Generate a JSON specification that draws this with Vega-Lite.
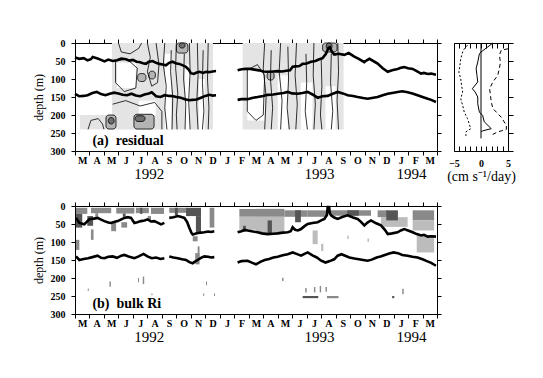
{
"$schema": "https://vega.github.io/schema/vega-lite/v6.json",
"padding": {"left": 31, "top": 37, "right": 5, "bottom": 5},
"background": "white",
"config": {
  "font": "Liberation Serif",
  "view": {"stroke": "black", "strokeWidth": 1},
  "axis": {"domain": false, "grid": false, "tickColor": "black", "tickSize": 4, "labelColor": "black", "labelFont": "Liberation Serif", "labelFontWeight": "bold", "labelFontSize": 10, "labelFlush": false, "labelOverlap": false, "labelBound": false, "titleFont": "Liberation Serif", "titleFontWeight": "normal", "titleFontSize": 12, "titleColor": "black"}
},
"datasets": {
  "shadeA": [
    {"t0": 0.35, "t1": 2.55, "d0": 200, "d1": 240, "lev": "L"},
    {"t0": 2.55, "t1": 9.53, "d0": 0, "d1": 240, "lev": "L"},
    {"t0": 11.58, "t1": 18.55, "d0": 0, "d1": 240, "lev": "L"},
    {"t0": 2.9, "t1": 4.2, "d0": 55, "d1": 125, "lev": "W"},
    {"t0": 4.4, "t1": 5.6, "d0": 160, "d1": 200, "lev": "W"},
    {"t0": 6.2, "t1": 6.65, "d0": 30, "d1": 240, "lev": "W"},
    {"t0": 7.6, "t1": 7.95, "d0": 60, "d1": 240, "lev": "W"},
    {"t0": 8.55, "t1": 8.95, "d0": 100, "d1": 240, "lev": "W"},
    {"t0": 11.9, "t1": 13.1, "d0": 75, "d1": 215, "lev": "W"},
    {"t0": 14.0, "t1": 14.7, "d0": 90, "d1": 240, "lev": "W"},
    {"t0": 15.6, "t1": 16.4, "d0": 110, "d1": 240, "lev": "W"},
    {"t0": 17.3, "t1": 18.0, "d0": 120, "d1": 240, "lev": "W"}
  ],
  "blobA": [
    {"t0": 4.33, "t1": 4.9, "d0": 85, "d1": 107, "lev": "M"},
    {"t0": 5.1, "t1": 5.55, "d0": 78, "d1": 100, "lev": "M"},
    {"t0": 2.14, "t1": 2.83, "d0": 200, "d1": 239, "lev": "M"},
    {"t0": 4.07, "t1": 5.46, "d0": 198, "d1": 239, "lev": "M"},
    {"t0": 7.0, "t1": 7.8, "d0": 0, "d1": 28, "lev": "M"},
    {"t0": 13.27, "t1": 13.75, "d0": 80, "d1": 103, "lev": "M"},
    {"t0": 17.1, "t1": 18.1, "d0": 0, "d1": 25, "lev": "M"},
    {"t0": 2.3, "t1": 2.7, "d0": 207, "d1": 225, "lev": "D"},
    {"t0": 4.15, "t1": 4.84, "d0": 202, "d1": 218, "lev": "D"},
    {"t0": 7.2, "t1": 7.6, "d0": 0, "d1": 14, "lev": "D"},
    {"t0": 17.35, "t1": 17.75, "d0": 0, "d1": 18, "lev": "D"}
  ],
  "contA": [
    {"c": "c1", "t": 6.2, "d": 0}, {"c": "c1", "t": 6.1, "d": 60}, {"c": "c1", "t": 6.3, "d": 120}, {"c": "c1", "t": 6.2, "d": 180}, {"c": "c1", "t": 6.35, "d": 240},
    {"c": "c2", "t": 6.65, "d": 20}, {"c": "c2", "t": 6.6, "d": 80}, {"c": "c2", "t": 6.75, "d": 150}, {"c": "c2", "t": 6.7, "d": 240},
    {"c": "c3", "t": 7.0, "d": 0}, {"c": "c3", "t": 6.95, "d": 70}, {"c": "c3", "t": 7.1, "d": 140}, {"c": "c3", "t": 7.0, "d": 200}, {"c": "c3", "t": 7.05, "d": 240},
    {"c": "c4", "t": 7.55, "d": 30}, {"c": "c4", "t": 7.5, "d": 100}, {"c": "c4", "t": 7.65, "d": 170}, {"c": "c4", "t": 7.6, "d": 240},
    {"c": "c5", "t": 7.9, "d": 0}, {"c": "c5", "t": 7.95, "d": 80}, {"c": "c5", "t": 7.85, "d": 160}, {"c": "c5", "t": 7.95, "d": 240},
    {"c": "c6", "t": 8.45, "d": 0}, {"c": "c6", "t": 8.5, "d": 90}, {"c": "c6", "t": 8.4, "d": 170}, {"c": "c6", "t": 8.5, "d": 240},
    {"c": "c7", "t": 8.85, "d": 20}, {"c": "c7", "t": 8.8, "d": 110}, {"c": "c7", "t": 8.9, "d": 190}, {"c": "c7", "t": 8.8, "d": 240},
    {"c": "c8", "t": 9.2, "d": 0}, {"c": "c8", "t": 9.15, "d": 100}, {"c": "c8", "t": 9.25, "d": 180}, {"c": "c8", "t": 9.2, "d": 240},
    {"c": "c9", "t": 2.8, "d": 50}, {"c": "c9", "t": 3.6, "d": 45}, {"c": "c9", "t": 4.3, "d": 70}, {"c": "c9", "t": 4.2, "d": 125}, {"c": "c9", "t": 3.4, "d": 135}, {"c": "c9", "t": 2.8, "d": 110}, {"c": "c9", "t": 2.8, "d": 50},
    {"c": "c11", "t": 2.6, "d": 170}, {"c": "c11", "t": 3.5, "d": 160}, {"c": "c11", "t": 4.5, "d": 175}, {"c": "c11", "t": 5.5, "d": 165}, {"c": "c11", "t": 6.0, "d": 190}, {"c": "c11", "t": 6.0, "d": 240},
    {"c": "c12", "t": 3.0, "d": 0}, {"c": "c12", "t": 3.2, "d": 25}, {"c": "c12", "t": 3.8, "d": 30}, {"c": "c12", "t": 4.4, "d": 15}, {"c": "c12", "t": 4.6, "d": 0},
    {"c": "c13", "t": 5.0, "d": 0}, {"c": "c13", "t": 5.2, "d": 40}, {"c": "c13", "t": 5.0, "d": 80}, {"c": "c13", "t": 5.3, "d": 120}, {"c": "c13", "t": 5.7, "d": 110}, {"c": "c13", "t": 5.8, "d": 60}, {"c": "c13", "t": 5.6, "d": 0},
    {"c": "c14", "t": 0.9, "d": 240}, {"c": "c14", "t": 1.1, "d": 215}, {"c": "c14", "t": 1.6, "d": 210}, {"c": "c14", "t": 1.9, "d": 225}, {"c": "c14", "t": 2.0, "d": 240},
    {"c": "d1", "t": 13.1, "d": 0}, {"c": "d1", "t": 13.0, "d": 70}, {"c": "d1", "t": 13.2, "d": 150}, {"c": "d1", "t": 13.1, "d": 240},
    {"c": "d2", "t": 13.55, "d": 20}, {"c": "d2", "t": 13.5, "d": 100}, {"c": "d2", "t": 13.65, "d": 180}, {"c": "d2", "t": 13.55, "d": 240},
    {"c": "d3", "t": 14.2, "d": 0}, {"c": "d3", "t": 14.1, "d": 80}, {"c": "d3", "t": 14.3, "d": 160}, {"c": "d3", "t": 14.2, "d": 240},
    {"c": "d4", "t": 14.7, "d": 10}, {"c": "d4", "t": 14.75, "d": 100}, {"c": "d4", "t": 14.65, "d": 180}, {"c": "d4", "t": 14.8, "d": 240},
    {"c": "d5", "t": 15.3, "d": 0}, {"c": "d5", "t": 15.2, "d": 90}, {"c": "d5", "t": 15.35, "d": 170}, {"c": "d5", "t": 15.25, "d": 240},
    {"c": "d6", "t": 15.95, "d": 30}, {"c": "d6", "t": 16.0, "d": 110}, {"c": "d6", "t": 15.9, "d": 190}, {"c": "d6", "t": 16.05, "d": 240},
    {"c": "d7", "t": 16.5, "d": 0}, {"c": "d7", "t": 16.45, "d": 90}, {"c": "d7", "t": 16.6, "d": 170}, {"c": "d7", "t": 16.5, "d": 240},
    {"c": "d8", "t": 17.0, "d": 40}, {"c": "d8", "t": 17.05, "d": 120}, {"c": "d8", "t": 16.95, "d": 200}, {"c": "d8", "t": 17.05, "d": 240},
    {"c": "d9", "t": 17.7, "d": 30}, {"c": "d9", "t": 17.65, "d": 110}, {"c": "d9", "t": 17.8, "d": 190}, {"c": "d9", "t": 17.7, "d": 240},
    {"c": "d10", "t": 18.15, "d": 0}, {"c": "d10", "t": 18.2, "d": 80}, {"c": "d10", "t": 18.1, "d": 160}, {"c": "d10", "t": 18.2, "d": 240},
    {"c": "d11", "t": 11.9, "d": 75}, {"c": "d11", "t": 12.6, "d": 60}, {"c": "d11", "t": 13.1, "d": 90}, {"c": "d11", "t": 13.0, "d": 200}, {"c": "d11", "t": 12.5, "d": 215}, {"c": "d11", "t": 11.9, "d": 190}, {"c": "d11", "t": 11.9, "d": 75}
  ],
  "linesA": [
    {"seg": "ml92", "t": 0, "d": 40}, {"seg": "ml92", "t": 0.3, "d": 44}, {"seg": "ml92", "t": 0.6, "d": 42}, {"seg": "ml92", "t": 0.87, "d": 48}, {"seg": "ml92", "t": 1.1, "d": 45}, {"seg": "ml92", "t": 1.22, "d": 39}, {"seg": "ml92", "t": 1.56, "d": 43}, {"seg": "ml92", "t": 1.8, "d": 47}, {"seg": "ml92", "t": 2.03, "d": 51}, {"seg": "ml92", "t": 2.3, "d": 46}, {"seg": "ml92", "t": 2.6, "d": 50}, {"seg": "ml92", "t": 2.9, "d": 48}, {"seg": "ml92", "t": 3.2, "d": 43}, {"seg": "ml92", "t": 3.52, "d": 45}, {"seg": "ml92", "t": 3.75, "d": 49}, {"seg": "ml92", "t": 4.0, "d": 47}, {"seg": "ml92", "t": 4.25, "d": 52}, {"seg": "ml92", "t": 4.44, "d": 53}, {"seg": "ml92", "t": 4.7, "d": 56}, {"seg": "ml92", "t": 4.9, "d": 58}, {"seg": "ml92", "t": 5.1, "d": 52}, {"seg": "ml92", "t": 5.36, "d": 50}, {"seg": "ml92", "t": 5.6, "d": 55}, {"seg": "ml92", "t": 5.82, "d": 58}, {"seg": "ml92", "t": 6.05, "d": 60}, {"seg": "ml92", "t": 6.28, "d": 62}, {"seg": "ml92", "t": 6.5, "d": 55}, {"seg": "ml92", "t": 6.74, "d": 52}, {"seg": "ml92", "t": 6.95, "d": 56}, {"seg": "ml92", "t": 7.2, "d": 58}, {"seg": "ml92", "t": 7.45, "d": 62}, {"seg": "ml92", "t": 7.66, "d": 66}, {"seg": "ml92", "t": 7.85, "d": 74}, {"seg": "ml92", "t": 8.0, "d": 84}, {"seg": "ml92", "t": 8.2, "d": 86}, {"seg": "ml92", "t": 8.4, "d": 82}, {"seg": "ml92", "t": 8.6, "d": 80}, {"seg": "ml92", "t": 8.85, "d": 83}, {"seg": "ml92", "t": 9.05, "d": 80}, {"seg": "ml92", "t": 9.25, "d": 81}, {"seg": "ml92", "t": 9.5, "d": 79}, {"seg": "ml92", "t": 9.74, "d": 78},
    {"seg": "th92", "t": 0, "d": 141}, {"seg": "th92", "t": 0.3, "d": 148}, {"seg": "th92", "t": 0.6, "d": 147}, {"seg": "th92", "t": 0.87, "d": 145}, {"seg": "th92", "t": 1.2, "d": 139}, {"seg": "th92", "t": 1.5, "d": 136}, {"seg": "th92", "t": 1.8, "d": 142}, {"seg": "th92", "t": 2.1, "d": 145}, {"seg": "th92", "t": 2.4, "d": 141}, {"seg": "th92", "t": 2.7, "d": 138}, {"seg": "th92", "t": 3.0, "d": 140}, {"seg": "th92", "t": 3.3, "d": 144}, {"seg": "th92", "t": 3.6, "d": 145}, {"seg": "th92", "t": 3.9, "d": 141}, {"seg": "th92", "t": 4.2, "d": 146}, {"seg": "th92", "t": 4.5, "d": 148}, {"seg": "th92", "t": 4.8, "d": 143}, {"seg": "th92", "t": 5.1, "d": 140}, {"seg": "th92", "t": 5.3, "d": 137}, {"seg": "th92", "t": 5.6, "d": 148}, {"seg": "th92", "t": 5.9, "d": 150}, {"seg": "th92", "t": 6.2, "d": 145}, {"seg": "th92", "t": 6.5, "d": 147}, {"seg": "th92", "t": 6.8, "d": 148}, {"seg": "th92", "t": 7.0, "d": 150}, {"seg": "th92", "t": 7.3, "d": 152}, {"seg": "th92", "t": 7.6, "d": 156}, {"seg": "th92", "t": 7.9, "d": 159}, {"seg": "th92", "t": 8.1, "d": 158}, {"seg": "th92", "t": 8.4, "d": 157}, {"seg": "th92", "t": 8.7, "d": 152}, {"seg": "th92", "t": 9.0, "d": 147}, {"seg": "th92", "t": 9.3, "d": 144}, {"seg": "th92", "t": 9.5, "d": 146}, {"seg": "th92", "t": 9.74, "d": 145},
    {"seg": "ml93", "t": 11.23, "d": 76}, {"seg": "ml93", "t": 11.5, "d": 73}, {"seg": "ml93", "t": 11.8, "d": 72}, {"seg": "ml93", "t": 12.1, "d": 72}, {"seg": "ml93", "t": 12.4, "d": 74}, {"seg": "ml93", "t": 12.7, "d": 76}, {"seg": "ml93", "t": 13.0, "d": 79}, {"seg": "ml93", "t": 13.3, "d": 80}, {"seg": "ml93", "t": 13.7, "d": 79}, {"seg": "ml93", "t": 14.0, "d": 78}, {"seg": "ml93", "t": 14.3, "d": 79}, {"seg": "ml93", "t": 14.6, "d": 77}, {"seg": "ml93", "t": 14.85, "d": 76}, {"seg": "ml93", "t": 15.03, "d": 66}, {"seg": "ml93", "t": 15.25, "d": 65}, {"seg": "ml93", "t": 15.5, "d": 64}, {"seg": "ml93", "t": 15.72, "d": 58}, {"seg": "ml93", "t": 16.0, "d": 57}, {"seg": "ml93", "t": 16.3, "d": 52}, {"seg": "ml93", "t": 16.6, "d": 50}, {"seg": "ml93", "t": 16.87, "d": 45}, {"seg": "ml93", "t": 17.1, "d": 42}, {"seg": "ml93", "t": 17.33, "d": 30}, {"seg": "ml93", "t": 17.5, "d": 14}, {"seg": "ml93", "t": 17.6, "d": 12}, {"seg": "ml93", "t": 17.75, "d": 25}, {"seg": "ml93", "t": 17.91, "d": 32}, {"seg": "ml93", "t": 18.2, "d": 30}, {"seg": "ml93", "t": 18.6, "d": 33}, {"seg": "ml93", "t": 18.9, "d": 28}, {"seg": "ml93", "t": 19.29, "d": 38}, {"seg": "ml93", "t": 19.6, "d": 44}, {"seg": "ml93", "t": 19.98, "d": 53}, {"seg": "ml93", "t": 20.15, "d": 48}, {"seg": "ml93", "t": 20.33, "d": 44}, {"seg": "ml93", "t": 20.6, "d": 50}, {"seg": "ml93", "t": 20.9, "d": 57}, {"seg": "ml93", "t": 21.25, "d": 70}, {"seg": "ml93", "t": 21.6, "d": 80}, {"seg": "ml93", "t": 21.9, "d": 76}, {"seg": "ml93", "t": 22.28, "d": 72}, {"seg": "ml93", "t": 22.5, "d": 69}, {"seg": "ml93", "t": 22.74, "d": 67}, {"seg": "ml93", "t": 23.0, "d": 70}, {"seg": "ml93", "t": 23.32, "d": 72}, {"seg": "ml93", "t": 23.6, "d": 78}, {"seg": "ml93", "t": 23.9, "d": 85}, {"seg": "ml93", "t": 24.1, "d": 83}, {"seg": "ml93", "t": 24.36, "d": 86}, {"seg": "ml93", "t": 24.6, "d": 85}, {"seg": "ml93", "t": 24.93, "d": 88},
    {"seg": "th93", "t": 11.23, "d": 158}, {"seg": "th93", "t": 11.5, "d": 156}, {"seg": "th93", "t": 11.92, "d": 156}, {"seg": "th93", "t": 12.3, "d": 152}, {"seg": "th93", "t": 12.61, "d": 150}, {"seg": "th93", "t": 13.0, "d": 147}, {"seg": "th93", "t": 13.3, "d": 144}, {"seg": "th93", "t": 13.7, "d": 143}, {"seg": "th93", "t": 14.0, "d": 141}, {"seg": "th93", "t": 14.4, "d": 139}, {"seg": "th93", "t": 14.69, "d": 136}, {"seg": "th93", "t": 15.0, "d": 140}, {"seg": "th93", "t": 15.38, "d": 141}, {"seg": "th93", "t": 15.7, "d": 139}, {"seg": "th93", "t": 16.07, "d": 136}, {"seg": "th93", "t": 16.4, "d": 143}, {"seg": "th93", "t": 16.76, "d": 152}, {"seg": "th93", "t": 17.1, "d": 148}, {"seg": "th93", "t": 17.45, "d": 147}, {"seg": "th93", "t": 17.8, "d": 141}, {"seg": "th93", "t": 18.14, "d": 136}, {"seg": "th93", "t": 18.5, "d": 140}, {"seg": "th93", "t": 18.83, "d": 145}, {"seg": "th93", "t": 19.2, "d": 147}, {"seg": "th93", "t": 19.52, "d": 150}, {"seg": "th93", "t": 19.9, "d": 153}, {"seg": "th93", "t": 20.21, "d": 155}, {"seg": "th93", "t": 20.6, "d": 152}, {"seg": "th93", "t": 20.9, "d": 150}, {"seg": "th93", "t": 21.25, "d": 145}, {"seg": "th93", "t": 21.6, "d": 141}, {"seg": "th93", "t": 22.0, "d": 138}, {"seg": "th93", "t": 22.28, "d": 136}, {"seg": "th93", "t": 22.6, "d": 134}, {"seg": "th93", "t": 22.97, "d": 137}, {"seg": "th93", "t": 23.3, "d": 140}, {"seg": "th93", "t": 23.66, "d": 145}, {"seg": "th93", "t": 24.0, "d": 150}, {"seg": "th93", "t": 24.36, "d": 155}, {"seg": "th93", "t": 24.6, "d": 158}, {"seg": "th93", "t": 24.93, "d": 164}
  ],
  "speckB": [
    {"t0": 0.07, "t1": 0.85, "d0": 5, "d1": 22, "lev": "g"},
    {"t0": 0.07, "t1": 0.5, "d0": 22, "d1": 60, "lev": "k"},
    {"t0": 0.85, "t1": 1.25, "d0": 28, "d1": 55, "lev": "k"},
    {"t0": 1.1, "t1": 2.5, "d0": 5, "d1": 20, "lev": "g"},
    {"t0": 1.4, "t1": 1.6, "d0": 20, "d1": 30, "lev": "g"},
    {"t0": 2.85, "t1": 4.1, "d0": 5, "d1": 21, "lev": "g"},
    {"t0": 3.3, "t1": 3.5, "d0": 21, "d1": 30, "lev": "k"},
    {"t0": 4.2, "t1": 5.1, "d0": 5, "d1": 20, "lev": "g"},
    {"t0": 4.5, "t1": 4.65, "d0": 5, "d1": 22, "lev": "k"},
    {"t0": 5.25, "t1": 6.15, "d0": 5, "d1": 22, "lev": "g"},
    {"t0": 1.1, "t1": 1.28, "d0": 65, "d1": 94, "lev": "g"},
    {"t0": 0.07, "t1": 0.3, "d0": 94, "d1": 122, "lev": "g"},
    {"t0": 2.5, "t1": 2.84, "d0": 47, "d1": 70, "lev": "g"},
    {"t0": 3.2, "t1": 3.6, "d0": 45, "d1": 60, "lev": "g"},
    {"t0": 5.02, "t1": 5.25, "d0": 28, "d1": 40, "lev": "g"},
    {"t0": 4.68, "t1": 4.78, "d0": 196, "d1": 217, "lev": "g"},
    {"t0": 4.35, "t1": 4.42, "d0": 200, "d1": 212, "lev": "g"},
    {"t0": 2.38, "t1": 2.48, "d0": 210, "d1": 224, "lev": "g"},
    {"t0": 0.88, "t1": 0.95, "d0": 229, "d1": 236, "lev": "g"},
    {"t0": 5.28, "t1": 5.35, "d0": 243, "d1": 248, "lev": "g"},
    {"t0": 6.51, "t1": 7.7, "d0": 5, "d1": 19, "lev": "g"},
    {"t0": 6.9, "t1": 7.1, "d0": 5, "d1": 25, "lev": "k"},
    {"t0": 7.67, "t1": 8.7, "d0": 5, "d1": 28, "lev": "k"},
    {"t0": 8.35, "t1": 8.7, "d0": 28, "d1": 72, "lev": "k"},
    {"t0": 8.13, "t1": 8.47, "d0": 84, "d1": 98, "lev": "g"},
    {"t0": 8.47, "t1": 8.6, "d0": 112, "d1": 145, "lev": "g"},
    {"t0": 8.3, "t1": 8.6, "d0": 131, "d1": 162, "lev": "g"},
    {"t0": 9.3, "t1": 9.62, "d0": 5, "d1": 60, "lev": "g"},
    {"t0": 9.05, "t1": 9.12, "d0": 210, "d1": 220, "lev": "g"},
    {"t0": 8.85, "t1": 8.92, "d0": 243, "d1": 250, "lev": "g"},
    {"t0": 9.6, "t1": 9.67, "d0": 243, "d1": 250, "lev": "g"},
    {"t0": 11.35, "t1": 12.5, "d0": 8, "d1": 30, "lev": "g"},
    {"t0": 11.35, "t1": 12.5, "d0": 30, "d1": 66, "lev": "l"},
    {"t0": 11.6, "t1": 11.8, "d0": 55, "d1": 72, "lev": "k"},
    {"t0": 12.5, "t1": 14.46, "d0": 8, "d1": 30, "lev": "g"},
    {"t0": 12.5, "t1": 14.46, "d0": 30, "d1": 75, "lev": "l"},
    {"t0": 13.3, "t1": 13.6, "d0": 40, "d1": 80, "lev": "k"},
    {"t0": 14.46, "t1": 16.07, "d0": 12, "d1": 30, "lev": "g"},
    {"t0": 15.2, "t1": 15.6, "d0": 12, "d1": 45, "lev": "k"},
    {"t0": 16.07, "t1": 17.35, "d0": 12, "d1": 30, "lev": "g"},
    {"t0": 17.68, "t1": 20.44, "d0": 12, "d1": 27, "lev": "g"},
    {"t0": 18.8, "t1": 19.6, "d0": 12, "d1": 27, "lev": "k"},
    {"t0": 20.9, "t1": 21.6, "d0": 12, "d1": 31, "lev": "g"},
    {"t0": 21.13, "t1": 22.97, "d0": 31, "d1": 58, "lev": "l"},
    {"t0": 21.5, "t1": 22.3, "d0": 12, "d1": 40, "lev": "k"},
    {"t0": 23.32, "t1": 24.8, "d0": 12, "d1": 40, "lev": "g"},
    {"t0": 23.32, "t1": 24.8, "d0": 40, "d1": 68, "lev": "l"},
    {"t0": 23.6, "t1": 24.8, "d0": 82, "d1": 129, "lev": "l"},
    {"t0": 16.41, "t1": 16.76, "d0": 68, "d1": 106, "lev": "l"},
    {"t0": 17.0, "t1": 17.15, "d0": 105, "d1": 125, "lev": "l"},
    {"t0": 18.8, "t1": 18.9, "d0": 82, "d1": 92, "lev": "l"},
    {"t0": 20.2, "t1": 20.3, "d0": 90, "d1": 100, "lev": "l"},
    {"t0": 14.3, "t1": 14.4, "d0": 199, "d1": 208, "lev": "g"},
    {"t0": 15.9, "t1": 16.0, "d0": 228, "d1": 240, "lev": "g"},
    {"t0": 16.5, "t1": 16.6, "d0": 225, "d1": 240, "lev": "g"},
    {"t0": 16.9, "t1": 17.0, "d0": 222, "d1": 240, "lev": "g"},
    {"t0": 17.3, "t1": 17.4, "d0": 225, "d1": 238, "lev": "g"},
    {"t0": 15.72, "t1": 16.8, "d0": 250, "d1": 256, "lev": "k"},
    {"t0": 17.4, "t1": 18.2, "d0": 250, "d1": 256, "lev": "g"},
    {"t0": 21.9, "t1": 22.05, "d0": 250, "d1": 256, "lev": "k"},
    {"t0": 22.6, "t1": 22.7, "d0": 230, "d1": 245, "lev": "g"}
  ],
  "linesB": [
    {"seg": "ml92a", "t": 0.07, "d": 33}, {"seg": "ml92a", "t": 0.3, "d": 47}, {"seg": "ml92a", "t": 0.64, "d": 51}, {"seg": "ml92a", "t": 0.99, "d": 37}, {"seg": "ml92a", "t": 1.3, "d": 35}, {"seg": "ml92a", "t": 1.56, "d": 33}, {"seg": "ml92a", "t": 1.8, "d": 38}, {"seg": "ml92a", "t": 2.03, "d": 42}, {"seg": "ml92a", "t": 2.3, "d": 46}, {"seg": "ml92a", "t": 2.49, "d": 47}, {"seg": "ml92a", "t": 2.75, "d": 44}, {"seg": "ml92a", "t": 2.95, "d": 42}, {"seg": "ml92a", "t": 3.2, "d": 37}, {"seg": "ml92a", "t": 3.41, "d": 33}, {"seg": "ml92a", "t": 3.65, "d": 31}, {"seg": "ml92a", "t": 3.87, "d": 33}, {"seg": "ml92a", "t": 4.1, "d": 47}, {"seg": "ml92a", "t": 4.3, "d": 45}, {"seg": "ml92a", "t": 4.56, "d": 42}, {"seg": "ml92a", "t": 4.8, "d": 40}, {"seg": "ml92a", "t": 5.02, "d": 37}, {"seg": "ml92a", "t": 5.25, "d": 43}, {"seg": "ml92a", "t": 5.48, "d": 42}, {"seg": "ml92a", "t": 5.7, "d": 46}, {"seg": "ml92a", "t": 5.94, "d": 51}, {"seg": "ml92a", "t": 6.17, "d": 47},
    {"seg": "ml92b", "t": 6.51, "d": 33}, {"seg": "ml92b", "t": 6.8, "d": 31}, {"seg": "ml92b", "t": 7.09, "d": 28}, {"seg": "ml92b", "t": 7.3, "d": 30}, {"seg": "ml92b", "t": 7.55, "d": 33}, {"seg": "ml92b", "t": 7.75, "d": 45}, {"seg": "ml92b", "t": 7.9, "d": 61}, {"seg": "ml92b", "t": 8.05, "d": 75}, {"seg": "ml92b", "t": 8.13, "d": 79}, {"seg": "ml92b", "t": 8.3, "d": 77}, {"seg": "ml92b", "t": 8.47, "d": 75}, {"seg": "ml92b", "t": 8.7, "d": 74}, {"seg": "ml92b", "t": 8.93, "d": 73}, {"seg": "ml92b", "t": 9.2, "d": 71}, {"seg": "ml92b", "t": 9.4, "d": 72}, {"seg": "ml92b", "t": 9.62, "d": 70},
    {"seg": "th92a", "t": 0.07, "d": 140}, {"seg": "th92a", "t": 0.3, "d": 150}, {"seg": "th92a", "t": 0.6, "d": 147}, {"seg": "th92a", "t": 0.9, "d": 145}, {"seg": "th92a", "t": 1.2, "d": 142}, {"seg": "th92a", "t": 1.56, "d": 138}, {"seg": "th92a", "t": 1.8, "d": 144}, {"seg": "th92a", "t": 2.03, "d": 145}, {"seg": "th92a", "t": 2.3, "d": 141}, {"seg": "th92a", "t": 2.6, "d": 140}, {"seg": "th92a", "t": 2.9, "d": 144}, {"seg": "th92a", "t": 3.2, "d": 138}, {"seg": "th92a", "t": 3.41, "d": 136}, {"seg": "th92a", "t": 3.7, "d": 140}, {"seg": "th92a", "t": 4.1, "d": 145}, {"seg": "th92a", "t": 4.4, "d": 140}, {"seg": "th92a", "t": 4.73, "d": 133}, {"seg": "th92a", "t": 5.0, "d": 140}, {"seg": "th92a", "t": 5.3, "d": 145}, {"seg": "th92a", "t": 5.6, "d": 143}, {"seg": "th92a", "t": 5.9, "d": 147}, {"seg": "th92a", "t": 6.17, "d": 145},
    {"seg": "th92b", "t": 6.51, "d": 140}, {"seg": "th92b", "t": 6.8, "d": 143}, {"seg": "th92b", "t": 7.09, "d": 145}, {"seg": "th92b", "t": 7.4, "d": 148}, {"seg": "th92b", "t": 7.67, "d": 150}, {"seg": "th92b", "t": 7.9, "d": 156}, {"seg": "th92b", "t": 8.13, "d": 159}, {"seg": "th92b", "t": 8.3, "d": 154}, {"seg": "th92b", "t": 8.47, "d": 150}, {"seg": "th92b", "t": 8.7, "d": 144}, {"seg": "th92b", "t": 8.93, "d": 140}, {"seg": "th92b", "t": 9.2, "d": 141}, {"seg": "th92b", "t": 9.4, "d": 143}, {"seg": "th92b", "t": 9.62, "d": 142},
    {"seg": "ml93", "t": 11.23, "d": 73}, {"seg": "ml93", "t": 11.5, "d": 70}, {"seg": "ml93", "t": 11.7, "d": 66}, {"seg": "ml93", "t": 11.92, "d": 68}, {"seg": "ml93", "t": 12.3, "d": 71}, {"seg": "ml93", "t": 12.61, "d": 73}, {"seg": "ml93", "t": 12.9, "d": 76}, {"seg": "ml93", "t": 13.3, "d": 78}, {"seg": "ml93", "t": 13.7, "d": 77}, {"seg": "ml93", "t": 14.0, "d": 76}, {"seg": "ml93", "t": 14.35, "d": 74}, {"seg": "ml93", "t": 14.69, "d": 73}, {"seg": "ml93", "t": 14.9, "d": 70}, {"seg": "ml93", "t": 15.03, "d": 59}, {"seg": "ml93", "t": 15.2, "d": 66}, {"seg": "ml93", "t": 15.4, "d": 68}, {"seg": "ml93", "t": 15.61, "d": 64}, {"seg": "ml93", "t": 15.85, "d": 56}, {"seg": "ml93", "t": 16.07, "d": 50}, {"seg": "ml93", "t": 16.4, "d": 47}, {"seg": "ml93", "t": 16.76, "d": 45}, {"seg": "ml93", "t": 17.0, "d": 40}, {"seg": "ml93", "t": 17.22, "d": 36}, {"seg": "ml93", "t": 17.4, "d": 25}, {"seg": "ml93", "t": 17.45, "d": 3}, {"seg": "ml93", "t": 17.55, "d": 3}, {"seg": "ml93", "t": 17.6, "d": 20}, {"seg": "ml93", "t": 17.68, "d": 26}, {"seg": "ml93", "t": 17.9, "d": 32}, {"seg": "ml93", "t": 18.14, "d": 36}, {"seg": "ml93", "t": 18.5, "d": 30}, {"seg": "ml93", "t": 18.83, "d": 26}, {"seg": "ml93", "t": 19.2, "d": 32}, {"seg": "ml93", "t": 19.52, "d": 36}, {"seg": "ml93", "t": 19.75, "d": 44}, {"seg": "ml93", "t": 19.98, "d": 54}, {"seg": "ml93", "t": 20.2, "d": 46}, {"seg": "ml93", "t": 20.44, "d": 40}, {"seg": "ml93", "t": 20.8, "d": 48}, {"seg": "ml93", "t": 21.13, "d": 54}, {"seg": "ml93", "t": 21.4, "d": 66}, {"seg": "ml93", "t": 21.6, "d": 78}, {"seg": "ml93", "t": 21.9, "d": 76}, {"seg": "ml93", "t": 22.28, "d": 73}, {"seg": "ml93", "t": 22.5, "d": 68}, {"seg": "ml93", "t": 22.74, "d": 64}, {"seg": "ml93", "t": 23.0, "d": 68}, {"seg": "ml93", "t": 23.32, "d": 73}, {"seg": "ml93", "t": 23.6, "d": 78}, {"seg": "ml93", "t": 23.9, "d": 82}, {"seg": "ml93", "t": 24.1, "d": 80}, {"seg": "ml93", "t": 24.36, "d": 85}, {"seg": "ml93", "t": 24.6, "d": 84}, {"seg": "ml93", "t": 24.93, "d": 85},
    {"seg": "th93", "t": 11.23, "d": 157}, {"seg": "th93", "t": 11.5, "d": 153}, {"seg": "th93", "t": 11.92, "d": 152}, {"seg": "th93", "t": 12.25, "d": 158}, {"seg": "th93", "t": 12.5, "d": 162}, {"seg": "th93", "t": 12.8, "d": 155}, {"seg": "th93", "t": 13.1, "d": 150}, {"seg": "th93", "t": 13.4, "d": 147}, {"seg": "th93", "t": 13.7, "d": 143}, {"seg": "th93", "t": 14.0, "d": 141}, {"seg": "th93", "t": 14.35, "d": 137}, {"seg": "th93", "t": 14.69, "d": 134}, {"seg": "th93", "t": 15.03, "d": 129}, {"seg": "th93", "t": 15.3, "d": 133}, {"seg": "th93", "t": 15.61, "d": 138}, {"seg": "th93", "t": 15.85, "d": 133}, {"seg": "th93", "t": 16.07, "d": 129}, {"seg": "th93", "t": 16.4, "d": 137}, {"seg": "th93", "t": 16.7, "d": 143}, {"seg": "th93", "t": 17.0, "d": 152}, {"seg": "th93", "t": 17.3, "d": 157}, {"seg": "th93", "t": 17.6, "d": 153}, {"seg": "th93", "t": 17.9, "d": 148}, {"seg": "th93", "t": 18.14, "d": 138}, {"seg": "th93", "t": 18.4, "d": 134}, {"seg": "th93", "t": 18.7, "d": 139}, {"seg": "th93", "t": 18.95, "d": 143}, {"seg": "th93", "t": 19.3, "d": 146}, {"seg": "th93", "t": 19.6, "d": 148}, {"seg": "th93", "t": 19.9, "d": 150}, {"seg": "th93", "t": 20.21, "d": 152}, {"seg": "th93", "t": 20.5, "d": 149}, {"seg": "th93", "t": 20.83, "d": 143}, {"seg": "th93", "t": 21.1, "d": 140}, {"seg": "th93", "t": 21.4, "d": 136}, {"seg": "th93", "t": 21.7, "d": 132}, {"seg": "th93", "t": 22.0, "d": 129}, {"seg": "th93", "t": 22.3, "d": 131}, {"seg": "th93", "t": 22.6, "d": 136}, {"seg": "th93", "t": 22.97, "d": 138}, {"seg": "th93", "t": 23.3, "d": 141}, {"seg": "th93", "t": 23.66, "d": 143}, {"seg": "th93", "t": 24.0, "d": 148}, {"seg": "th93", "t": 24.3, "d": 153}, {"seg": "th93", "t": 24.6, "d": 158}, {"seg": "th93", "t": 24.93, "d": 166}
  ],
  "prof": [
    {"k": "mean", "v": 2.2, "d": 0}, {"k": "mean", "v": 1.25, "d": 11}, {"k": "mean", "v": 0, "d": 25}, {"k": "mean", "v": -0.3, "d": 30}, {"k": "mean", "v": -0.6, "d": 53}, {"k": "mean", "v": -0.9, "d": 71}, {"k": "mean", "v": -0.75, "d": 90}, {"k": "mean", "v": -0.6, "d": 108}, {"k": "mean", "v": -1.6, "d": 127}, {"k": "mean", "v": -1.1, "d": 136}, {"k": "mean", "v": -0.6, "d": 150}, {"k": "mean", "v": -0.6, "d": 169}, {"k": "mean", "v": -0.3, "d": 192}, {"k": "mean", "v": 0.3, "d": 201}, {"k": "mean", "v": 0.6, "d": 219}, {"k": "mean", "v": 1.9, "d": 238}, {"k": "mean", "v": 0.3, "d": 244}, {"k": "mean", "v": 0, "d": 247},
    {"k": "low", "v": -2.5, "d": 6}, {"k": "low", "v": -3.1, "d": 16}, {"k": "low", "v": -3.4, "d": 25}, {"k": "low", "v": -3.75, "d": 44}, {"k": "low", "v": -3.9, "d": 62}, {"k": "low", "v": -4.1, "d": 81}, {"k": "low", "v": -3.75, "d": 99}, {"k": "low", "v": -3.6, "d": 118}, {"k": "low", "v": -3.4, "d": 136}, {"k": "low", "v": -3.75, "d": 155}, {"k": "low", "v": -3.4, "d": 173}, {"k": "low", "v": -3.1, "d": 192}, {"k": "low", "v": -2.5, "d": 210}, {"k": "low", "v": -2.2, "d": 224}, {"k": "low", "v": -1.9, "d": 238}, {"k": "low", "v": -2.8, "d": 247}, {"k": "low", "v": -2.8, "d": 258},
    {"k": "high", "v": 5, "d": 16}, {"k": "high", "v": 3.75, "d": 20}, {"k": "high", "v": 3.4, "d": 34}, {"k": "high", "v": 3.6, "d": 53}, {"k": "high", "v": 3.4, "d": 71}, {"k": "high", "v": 3.1, "d": 90}, {"k": "high", "v": 2.2, "d": 108}, {"k": "high", "v": 1.6, "d": 127}, {"k": "high", "v": 1.75, "d": 145}, {"k": "high", "v": 1.9, "d": 164}, {"k": "high", "v": 2.2, "d": 182}, {"k": "high", "v": 3.1, "d": 196}, {"k": "high", "v": 3.75, "d": 206}, {"k": "high", "v": 4.7, "d": 229}, {"k": "high", "v": 4.7, "d": 240}, {"k": "high", "v": 3.1, "d": 247}, {"k": "high", "v": 1.9, "d": 256}
  ]
},
"columns": 2,
"spacing": {"row": 55, "column": 17},
"bounds": "flush",
"concat": [
  {
    "width": 362, "height": 108,
    "resolve": {"axis": {"x": "independent", "y": "independent"}},
    "layer": [
      {"data": {"name": "shadeA"}, "mark": {"type": "rect", "strokeWidth": 0},
       "encoding": {
         "x": {"field": "t0", "type": "quantitative", "scale": {"domain": [0, 25], "nice": false, "zero": false}, "axis": {"orient": "bottom", "values": [0,1,2,3,4,5,6,7,8,9,10,11,12,13,14,15,16,17,18,19,20,21,22,23,24,25], "labels": false, "title": null}},
         "x2": {"field": "t1"},
         "y": {"field": "d0", "type": "quantitative", "scale": {"domain": [0, 300], "reverse": true, "nice": false, "zero": false}, "axis": {"orient": "left", "values": [0,50,100,150,200,250,300], "labelPadding": 6, "title": "depth (m)", "titlePadding": 5}},
         "y2": {"field": "d1"},
         "color": {"field": "lev", "type": "nominal", "scale": {"domain": ["L","W","M","D","g","k","l"], "range": ["#e4e4e4","#ffffff","#b4b4b4","#6e6e6e","#8a8a8a","#555555","#bcbcbc"]}, "legend": null}
       }},
      {"data": {"name": "blobA"}, "mark": {"type": "rect", "stroke": "black", "strokeWidth": 0.8, "cornerRadius": 3},
       "encoding": {
         "x": {"field": "t0", "type": "quantitative", "scale": {"domain": [0, 25], "nice": false, "zero": false}, "axis": {"orient": "bottom", "values": [0.5,1.5,2.5,3.5,4.5,5.5,6.5,7.5,8.5,9.5,10.5,11.5,12.5,13.5,14.5,15.5,16.5,17.5,18.5,19.5,20.5,21.5,22.5,23.5,24.5], "ticks": false, "labelPadding": 4, "labelExpr": "substring('MAMJJASONDJFMAMJJASONDJFM', floor(datum.value), floor(datum.value) + 1)", "title": null}},
         "x2": {"field": "t1"},
         "y": {"field": "d0", "type": "quantitative", "scale": {"domain": [0, 300], "reverse": true, "nice": false, "zero": false}, "axis": {"orient": "right", "values": [0,50,100,150,200,250,300], "labels": false, "title": null}},
         "y2": {"field": "d1"},
         "color": {"field": "lev", "type": "nominal", "scale": {"domain": ["L","W","M","D","g","k","l"], "range": ["#e4e4e4","#ffffff","#b4b4b4","#6e6e6e","#8a8a8a","#555555","#bcbcbc"]}, "legend": null}
       }},
      {"data": {"name": "contA"}, "mark": {"type": "line", "color": "black", "strokeWidth": 0.8},
       "encoding": {
         "x": {"field": "t", "type": "quantitative", "scale": {"domain": [0, 25], "nice": false, "zero": false}, "axis": {"orient": "bottom", "values": [5.1, 16.85, 23.2], "ticks": false, "labelPadding": 15, "labelFontSize": 15, "labelFontWeight": "normal", "labelExpr": "datum.value < 10 ? '1992' : datum.value < 20 ? '1993' : '1994'", "title": null}},
         "y": {"field": "d", "type": "quantitative", "scale": {"domain": [0, 300], "reverse": true, "nice": false, "zero": false}, "axis": null},
         "detail": {"field": "c", "type": "nominal"},
         "order": {"value": null}
       }},
      {"data": {"name": "linesA"}, "mark": {"type": "line", "color": "black", "strokeWidth": 2.6},
       "encoding": {
         "x": {"field": "t", "type": "quantitative", "scale": {"domain": [0, 25], "nice": false, "zero": false}, "axis": {"orient": "top", "values": [0,1,2,3,4,5,6,7,8,9,10,11,12,13,14,15,16,17,18,19,20,21,22,23,24,25], "labels": false, "title": null}},
         "y": {"field": "d", "type": "quantitative", "scale": {"domain": [0, 300], "reverse": true, "nice": false, "zero": false}, "axis": null},
         "detail": {"field": "seg", "type": "nominal"}
       }},
      {"data": {"values": [{"label": "(a)\u00a0\u00a0residual"}]}, "mark": {"type": "text", "align": "left", "baseline": "middle", "fontSize": 14, "font": "Liberation Serif", "fontWeight": "bold"},
       "encoding": {
         "x": {"datum": 1.2, "type": "quantitative", "scale": {"domain": [0, 25], "nice": false, "zero": false}, "axis": null},
         "y": {"datum": 272, "type": "quantitative", "scale": {"domain": [0, 300], "reverse": true, "nice": false, "zero": false}, "axis": null},
         "text": {"field": "label", "type": "nominal"}
       }}
    ]
  },
  {
    "width": 54, "height": 108,
    "resolve": {"axis": {"x": "independent", "y": "independent"}},
    "layer": [
      {"data": {"values": [{"v": 0, "d0": 0, "d1": 265}]}, "mark": {"type": "rule", "color": "black", "strokeWidth": 1},
       "encoding": {
         "x": {"field": "v", "type": "quantitative", "scale": {"domain": [-5, 5], "nice": false, "zero": false}, "axis": {"orient": "bottom", "values": [-5, 0, 5], "ticks": false, "labelPadding": 7, "title": "(cm s⁻¹/day)", "titleFontSize": 14, "titlePadding": 1}},
         "y": {"field": "d0", "type": "quantitative", "scale": {"domain": [0, 300], "reverse": true, "nice": false, "zero": false}, "axis": null},
         "y2": {"field": "d1"}
       }},
      {"data": {"name": "prof"}, "transform": [{"filter": "datum.k == 'mean'"}], "mark": {"type": "line", "color": "black", "strokeWidth": 1},
       "encoding": {
         "x": {"field": "v", "type": "quantitative", "scale": {"domain": [-5, 5], "nice": false, "zero": false}, "axis": {"orient": "bottom", "values": [-5,-4,-3,-2,-1,0,1,2,3,4,5], "labels": false, "tickSize": -5, "title": null}},
         "y": {"field": "d", "type": "quantitative", "scale": {"domain": [0, 300], "reverse": true, "nice": false, "zero": false}, "axis": {"orient": "right", "values": [0,50,100,150,200,250,300], "labels": false, "tickSize": 5, "title": null}},
         "order": {"value": null}
       }},
      {"data": {"name": "prof"}, "transform": [{"filter": "datum.k != 'mean'"}], "mark": {"type": "line", "color": "black", "strokeWidth": 1},
       "encoding": {
         "x": {"field": "v", "type": "quantitative", "scale": {"domain": [-5, 5], "nice": false, "zero": false}, "axis": {"orient": "top", "values": [-5,-4,-3,-2,-1,0,1,2,3,4,5], "labels": false, "tickSize": -5, "title": null}},
         "y": {"field": "d", "type": "quantitative", "scale": {"domain": [0, 300], "reverse": true, "nice": false, "zero": false}, "axis": null},
         "detail": {"field": "k", "type": "nominal"},
         "strokeDash": {"field": "k", "type": "nominal", "scale": {"domain": ["low", "high"], "range": [[2, 2], [4, 3]]}, "legend": null},
         "order": {"value": null}
       }}
    ]
  },
  {
    "width": 362, "height": 108,
    "resolve": {"axis": {"x": "independent", "y": "independent"}},
    "layer": [
      {"data": {"name": "speckB"}, "mark": {"type": "rect", "strokeWidth": 0},
       "encoding": {
         "x": {"field": "t0", "type": "quantitative", "scale": {"domain": [0, 25], "nice": false, "zero": false}, "axis": {"orient": "bottom", "values": [0,1,2,3,4,5,6,7,8,9,10,11,12,13,14,15,16,17,18,19,20,21,22,23,24,25], "labels": false, "title": null}},
         "x2": {"field": "t1"},
         "y": {"field": "d0", "type": "quantitative", "scale": {"domain": [0, 300], "reverse": true, "nice": false, "zero": false}, "axis": {"orient": "left", "values": [0,50,100,150,200,250,300], "labelPadding": 6, "title": "depth (m)", "titlePadding": 5}},
         "y2": {"field": "d1"},
         "color": {"field": "lev", "type": "nominal", "scale": {"domain": ["L","W","M","D","g","k","l"], "range": ["#e4e4e4","#ffffff","#b4b4b4","#6e6e6e","#8a8a8a","#555555","#bcbcbc"]}, "legend": null}
       }},
      {"data": {"name": "linesB"}, "transform": [{"filter": "indexof(datum.seg, 'ml') == 0"}], "mark": {"type": "line", "color": "black", "strokeWidth": 2.6},
       "encoding": {
         "x": {"field": "t", "type": "quantitative", "scale": {"domain": [0, 25], "nice": false, "zero": false}, "axis": {"orient": "bottom", "values": [0.5,1.5,2.5,3.5,4.5,5.5,6.5,7.5,8.5,9.5,10.5,11.5,12.5,13.5,14.5,15.5,16.5,17.5,18.5,19.5,20.5,21.5,22.5,23.5,24.5], "ticks": false, "labelPadding": 4, "labelExpr": "substring('MAMJJASONDJFMAMJJASONDJFM', floor(datum.value), floor(datum.value) + 1)", "title": null}},
         "y": {"field": "d", "type": "quantitative", "scale": {"domain": [0, 300], "reverse": true, "nice": false, "zero": false}, "axis": {"orient": "right", "values": [0,50,100,150,200,250,300], "labels": false, "title": null}},
         "detail": {"field": "seg", "type": "nominal"}
       }},
      {"data": {"name": "linesB"}, "transform": [{"filter": "indexof(datum.seg, 'th') == 0"}], "mark": {"type": "line", "color": "black", "strokeWidth": 2.6},
       "encoding": {
         "x": {"field": "t", "type": "quantitative", "scale": {"domain": [0, 25], "nice": false, "zero": false}, "axis": {"orient": "top", "values": [0,1,2,3,4,5,6,7,8,9,10,11,12,13,14,15,16,17,18,19,20,21,22,23,24,25], "labels": false, "title": null}},
         "y": {"field": "d", "type": "quantitative", "scale": {"domain": [0, 300], "reverse": true, "nice": false, "zero": false}, "axis": null},
         "detail": {"field": "seg", "type": "nominal"}
       }},
      {"data": {"values": [{"label": "(b)\u00a0\u00a0bulk Ri"}]}, "mark": {"type": "text", "align": "left", "baseline": "middle", "fontSize": 14, "font": "Liberation Serif", "fontWeight": "bold"},
       "encoding": {
         "x": {"datum": 1.2, "type": "quantitative", "scale": {"domain": [0, 25], "nice": false, "zero": false}, "axis": {"orient": "bottom", "values": [5.1, 16.85, 23.2], "ticks": false, "labelPadding": 15, "labelFontSize": 15, "labelFontWeight": "normal", "labelExpr": "datum.value < 10 ? '1992' : datum.value < 20 ? '1993' : '1994'", "title": null}},
         "y": {"datum": 272, "type": "quantitative", "scale": {"domain": [0, 300], "reverse": true, "nice": false, "zero": false}, "axis": null},
         "text": {"field": "label", "type": "nominal"}
       }}
    ]
  }
]
}
